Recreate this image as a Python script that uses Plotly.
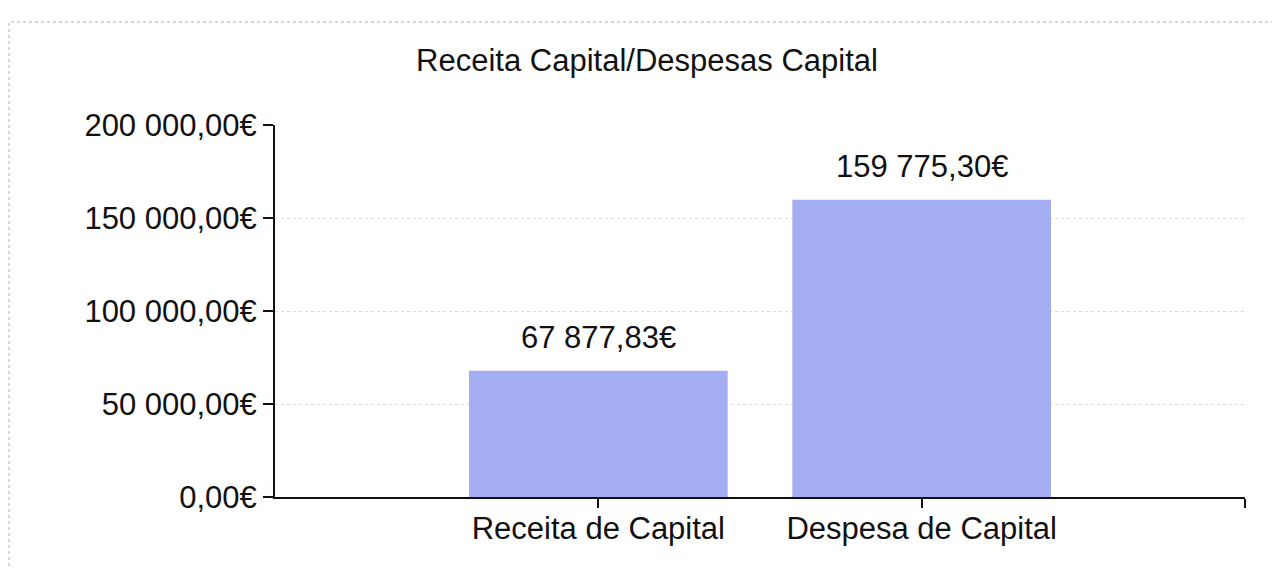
import plotly.graph_objects as go

title = "Receita Capital/Despesas Capital"
categories = ["Receita de Capital", "Despesa de Capital"]
values = [67877.83, 159775.30]
y_ticks = [0, 50000, 100000, 150000, 200000]

def fmt(v):
    return f"{v:,.2f}".replace(",", " ").replace(".", ",") + "€"

FONT = "Liberation Sans, Arial, sans-serif"
xpos = list(range(len(categories)))

# page body has an 8px default margin; figure sized to fit the window
W, H = 1272, 561
L, T, R, B = 267, 117, 35, 72
PW, PH = W - L - R, H - T - B

fig = go.Figure()
fig.add_trace(go.Bar(
    x=xpos, y=values, width=0.8,
    marker=dict(color="#a4adf1", line=dict(width=0)),
    hoverinfo="skip", showlegend=False,
))

for xi, v in zip(xpos, values):
    fig.add_annotation(x=xi, y=v, text=fmt(v), showarrow=False,
                       yanchor="bottom", yshift=14,
                       font=dict(family=FONT, size=31, color="#111111"))

fig.add_shape(type="rect", xref="paper", yref="paper",
              x0=(1 - L) / PW, x1=(W + 20 - L) / PW,
              y0=(T + PH - (H + 20)) / PH, y1=(T + PH - 14) / PH,
              line=dict(color="#c8c8e6", width=1.5, dash="dot"),
              fillcolor="rgba(0,0,0,0)", layer="below")

fig.update_layout(
    width=W, height=H,
    margin=dict(l=L, r=R, t=T, b=B),
    paper_bgcolor="white", plot_bgcolor="white",
    font=dict(family=FONT, size=31, color="#111111"),
    title=dict(text=title, x=647 / W - 8 / W, xanchor="center",
               y=1 - 52 / H, yanchor="middle", yref="container",
               font=dict(family=FONT, size=31, color="#111111")),
    xaxis=dict(range=[-1, 2], tickmode="array",
               tickvals=xpos + [len(categories)],
               ticktext=categories + [""],
               showgrid=False, zeroline=False,
               showline=True, linecolor="#111111", linewidth=2,
               ticks="outside", ticklen=9, tickwidth=2, tickcolor="#111111",
               ticklabelstandoff=-6,
               tickfont=dict(family=FONT, size=31, color="#111111")),
    yaxis=dict(range=[0, 200000], tickmode="array", tickvals=y_ticks,
               ticktext=[fmt(t) for t in y_ticks],
               showgrid=True, gridcolor="#d8d8ea", griddash="dot", gridwidth=1,
               zeroline=False,
               showline=True, linecolor="#111111", linewidth=2,
               ticks="outside", ticklen=10, tickwidth=2, tickcolor="#111111",
               tickfont=dict(family=FONT, size=31, color="#111111")),
)

fig.write_html("out.html")
